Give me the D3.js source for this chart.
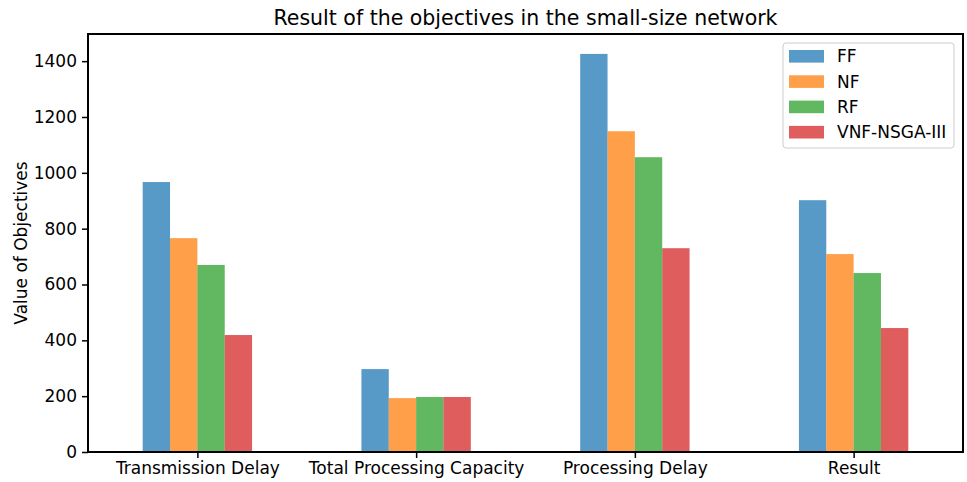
<!DOCTYPE html>
<html>
<head>
<meta charset="utf-8">
<script src="https://cdn.jsdelivr.net/npm/d3@7"></script>
<style>
  html, body { margin: 0; padding: 0; background: #fff; }
  text { font-family: "DejaVu Sans", sans-serif; fill: #000; }
</style>
</head>
<body>
<svg id="chart" width="967" height="482"></svg>
<script>
const categories = ["Transmission Delay", "Total Processing Capacity", "Processing Delay", "Result"];
const seriesNames = ["FF", "NF", "RF", "VNF-NSGA-III"];
const ffValues = [967, 297, 1426, 902];
const nfValues = [766, 193, 1149, 709];
const rfValues = [670, 197, 1056, 641];
const vnfValues = [419, 197, 730, 444];
const yTicks = [0, 200, 400, 600, 800, 1000, 1200, 1400];
const colors = ["#1f77b4", "#ff7f0e", "#2ca02c", "#d62728"];
const titleText = "Result of the objectives in the small-size network";
const yLabelText = "Value of Objectives";

const series = [ffValues, nfValues, rfValues, vnfValues];

const margin = { left: 88, right: 4, top: 34, bottom: 30 };
const W = 967, H = 482;
const plotL = margin.left, plotR = W - margin.right, plotT = margin.top, plotB = H - margin.bottom;

const svg = d3.select("#chart");

const maxVal = d3.max(series.flat());
const x = d3.scaleLinear().domain([-0.5, categories.length - 0.5]).range([plotL, plotR]);
const y = d3.scaleLinear().domain([0, maxVal * 1.05]).range([plotB, plotT]);
const barW = 0.125;

// bars
series.forEach((vals, si) => {
  svg.append("g").selectAll("rect").data(vals).join("rect")
    .attr("x", (d, i) => x(i + (si - 2) * barW))
    .attr("width", x(barW) - x(0))
    .attr("y", d => y(d))
    .attr("height", d => y(0) - y(d))
    .attr("fill", colors[si])
    .attr("fill-opacity", 0.75);
});

// axes
const xAxis = d3.axisBottom(x).tickValues(d3.range(categories.length))
  .tickFormat(i => categories[i]).tickSize(6).tickPadding(4);
const gx = svg.append("g").attr("transform", `translate(0,${plotB})`).call(xAxis);
gx.select(".domain").remove();
gx.selectAll(".tick line").attr("stroke", "#000").attr("stroke-width", 1.5);
gx.selectAll(".tick text").attr("font-size", 17).attr("font-family", "DejaVu Sans").attr("fill", "#000");

const yAxis = d3.axisLeft(y).tickValues(yTicks).tickFormat(d3.format("d")).tickSize(6).tickPadding(5);
const gy = svg.append("g").attr("transform", `translate(${plotL},0)`).call(yAxis);
gy.select(".domain").remove();
gy.selectAll(".tick line").attr("stroke", "#000").attr("stroke-width", 1.5);
gy.selectAll(".tick text").attr("font-size", 17).attr("font-family", "DejaVu Sans").attr("fill", "#000");

// frame
svg.append("rect").attr("x", plotL).attr("y", plotT)
  .attr("width", plotR - plotL).attr("height", plotB - plotT)
  .attr("fill", "none").attr("stroke", "#000").attr("stroke-width", 2);

// title
svg.append("text").attr("x", (plotL + plotR) / 2).attr("y", plotT - 9)
  .attr("text-anchor", "middle").attr("font-size", 20.5).text(titleText);

// y label
svg.append("text").attr("transform", `translate(27,${(plotT + plotB) / 2}) rotate(-90)`)
  .attr("text-anchor", "middle").attr("font-size", 17).text(yLabelText);

// legend
const lg = svg.append("g");
lg.append("rect").attr("x", 783).attr("y", 43).attr("width", 171).attr("height", 105)
  .attr("rx", 3).attr("fill", "#fff").attr("fill-opacity", 0.8)
  .attr("stroke", "#cccccc").attr("stroke-width", 1);
seriesNames.forEach((name, i) => {
  const cy = 56.3 + i * 25.3;
  lg.append("rect").attr("x", 789).attr("y", cy - 6.3).attr("width", 35).attr("height", 12.6)
    .attr("fill", colors[i]).attr("fill-opacity", 0.75);
  lg.append("text").attr("x", 837).attr("y", cy).attr("dy", "0.36em")
    .attr("font-size", 17).text(name);
});
</script>
</body>
</html>
